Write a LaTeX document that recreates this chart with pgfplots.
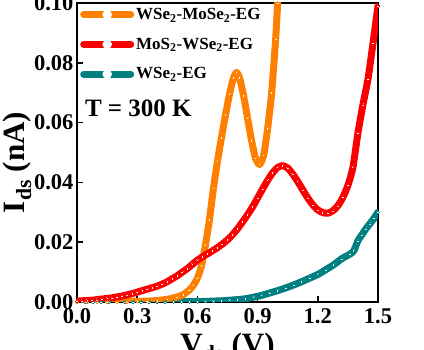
\documentclass[border=0pt]{standalone}
\usepackage{pgfplots}
\pgfplotsset{compat=1.18}
\usepackage{fontspec}
\setmainfont{Liberation Serif}
\definecolor{corange}{RGB}{255,128,0}
\definecolor{cred}{RGB}{250,0,0}
\definecolor{cteal}{RGB}{0,128,128}
\begin{document}
\begin{tikzpicture}[x=1pt,y=1pt]
\useasboundingbox (-77,-48) rectangle (347,302);
\clip (-77,-48) rectangle (347,302);
\begin{axis}[
  at={(0,0)}, anchor=south west,
  scale only axis, width=301pt, height=299pt,
  xmin=0, xmax=1.5, ymin=0, ymax=0.1,
  xtick={0,0.3,0.6,0.9,1.2,1.5},
  ytick={0,0.02,0.04,0.06,0.08,0.10},
  tick align=inside, xtick pos=bottom, ytick pos=left,
  major tick length=6pt,
  every tick/.style={black, line width=1.5pt},
  axis line style={line width=1.5pt},
  scaled y ticks=false,
  xticklabel style={yshift=-3pt, /pgf/number format/.cd, fixed, fixed zerofill, precision=1},
  yticklabel style={/pgf/number format/.cd, fixed, fixed zerofill, precision=2},
  /pgf/number format/assume math mode=true,
  tick label style={font=\fontsize{22.5}{25}\selectfont\bfseries},
  xlabel={V\textsubscript{ds} (V)}, ylabel={I\textsubscript{ds} (nA)},
  label style={font=\fontsize{31}{34}\selectfont\bfseries},
  xlabel style={yshift=-2pt},
  ylabel style={yshift=-4pt, xshift=-10pt},
  legend style={at={(0,1)}, anchor=north west, draw=none, fill=none,
    font=\fontsize{17}{20}\selectfont\bfseries, row sep=13pt,
    inner xsep=3pt, inner ysep=3pt},
  legend cell align=left,
  legend image code/.code={
    \draw[#1, line width=7pt] (0pt,0pt) -- (47pt,0pt);
    \fill[white] (23.5pt,0pt) circle (1.3pt);
  },
  every axis plot/.append style={line width=7pt, line join=round, line cap=round,
    smooth, tension=0.4,
    mark=*, mark size=1.5pt, mark options={draw=none, fill=white, line width=0pt}},
]
\addlegendimage{corange}
\addlegendentry{WSe\textsubscript{2}-MoSe\textsubscript{2}-EG}
\addlegendimage{cred}
\addlegendentry{MoS\textsubscript{2}-WSe\textsubscript{2}-EG}
\addlegendimage{cteal}
\addlegendentry{WSe\textsubscript{2}-EG}

% WSe2-EG
\addplot[cteal, forget plot] coordinates {
(0.00,0.0000) (0.04,0.0000) (0.08,0.0000) (0.12,0.0000) (0.16,0.0000)
(0.20,0.0000) (0.24,0.0000) (0.28,0.0000) (0.32,0.0000) (0.36,0.0000)
(0.40,0.0000) (0.44,0.0000) (0.48,0.0001) (0.52,0.0001) (0.56,0.0001)
(0.60,0.0001) (0.64,0.0002) (0.68,0.0003) (0.72,0.0004) (0.76,0.0006)
(0.80,0.0008) (0.84,0.0011) (0.88,0.0016) (0.92,0.0022) (0.96,0.0030)
(1.00,0.0038) (1.04,0.0047) (1.08,0.0057) (1.12,0.0068) (1.16,0.0080)
(1.20,0.0092) (1.24,0.0108) (1.28,0.0125) (1.32,0.0145) (1.36,0.0160)
(1.38,0.0172) (1.40,0.0205) (1.42,0.0225) (1.44,0.0245) (1.46,0.0262)
(1.48,0.0280) (1.50,0.0300)
};

% WSe2-MoSe2-EG
\addplot[corange, forget plot] coordinates {
(0.00,0.0000) (0.05,0.0000) (0.10,0.0000) (0.15,0.0000) (0.20,0.0001)
(0.25,0.0001) (0.30,0.0002) (0.35,0.0003) (0.40,0.0005) (0.45,0.0009)
(0.50,0.0017) (0.53,0.0025) (0.56,0.0040) (0.58,0.0056) (0.60,0.0080)
(0.62,0.0120) (0.64,0.0190) (0.66,0.0275) (0.68,0.0380) (0.70,0.0470)
(0.72,0.0550) (0.74,0.0625) (0.76,0.0695) (0.78,0.0750) (0.795,0.0768)
(0.81,0.0750) (0.83,0.0690) (0.85,0.0615) (0.87,0.0540) (0.89,0.0480)
(0.91,0.0460) (0.93,0.0490) (0.95,0.0580) (0.97,0.0700) (0.99,0.0880)
(1.00,0.1000) (1.01,0.1120)
};

% MoS2-WSe2-EG
\addplot[cred, forget plot] coordinates {
(0.000,0.0003) (0.025,0.0004) (0.050,0.0005) (0.075,0.0006) (0.100,0.0008)
(0.125,0.0010) (0.150,0.0012) (0.175,0.0014) (0.200,0.0017) (0.225,0.0020)
(0.250,0.0024) (0.275,0.0028) (0.300,0.0033) (0.325,0.0038) (0.350,0.0043)
(0.375,0.0048) (0.400,0.0053) (0.425,0.0060) (0.450,0.0068) (0.475,0.0078)
(0.500,0.0088) (0.525,0.0100) (0.550,0.0112) (0.575,0.0126) (0.600,0.0140)
(0.625,0.0151) (0.650,0.0161) (0.675,0.0171) (0.700,0.0182) (0.725,0.0194)
(0.750,0.0208) (0.775,0.0225) (0.800,0.0245) (0.825,0.0268) (0.850,0.0292)
(0.875,0.0318) (0.900,0.0348) (0.925,0.0378) (0.950,0.0407) (0.975,0.0432)
(1.000,0.0450) (1.025,0.0456) (1.050,0.0448) (1.075,0.0428) (1.100,0.0403)
(1.125,0.0375) (1.150,0.0348) (1.175,0.0325) (1.200,0.0308) (1.225,0.0299)
(1.250,0.0297) (1.275,0.0305) (1.300,0.0322) (1.325,0.0350) (1.350,0.0390)
(1.375,0.0450) (1.400,0.0565) (1.425,0.0660) (1.450,0.0745) (1.475,0.0865)
(1.500,0.0990)
};

\node[anchor=west, font=\fontsize{25}{28}\selectfont\bfseries] at (rel axis cs:0.015,0.649) {T = 300 K};
\end{axis}
\end{tikzpicture}
\end{document}
